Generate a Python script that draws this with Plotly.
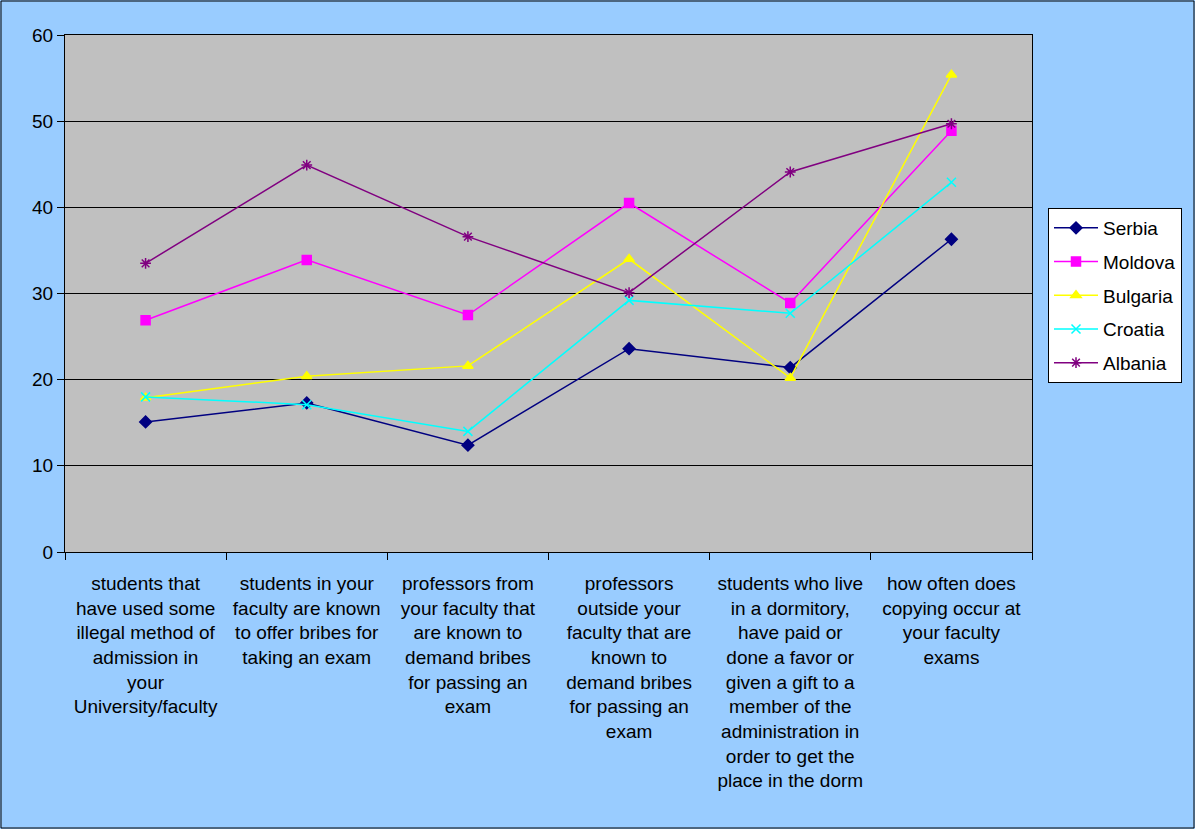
import plotly.graph_objects as go

# survey questions (x categories)
questions = [
    "students that<br>have used some<br>illegal method of<br>admission in<br>your<br>University/faculty",
    "students in your<br>faculty are known<br>to offer bribes for<br>taking an exam",
    "professors from<br>your faculty that<br>are known to<br>demand bribes<br>for passing an<br>exam",
    "professors<br>outside your<br>faculty that are<br>known to<br>demand bribes<br>for passing an<br>exam",
    "students who live<br>in a dormitory,<br>have paid or<br>done a favor or<br>given a gift to a<br>member of the<br>administration in<br>order to get the<br>place in the dorm",
    "how often does<br>copying occur at<br>your faculty<br>exams",
]

serbia = [15.1, 17.3, 12.4, 23.6, 21.4, 36.3]
moldova = [26.9, 33.9, 27.5, 40.5, 28.9, 48.9]
bulgaria = [17.9, 20.4, 21.6, 34.0, 20.2, 55.4]
croatia = [18.0, 17.1, 14.0, 29.2, 27.7, 42.9]
albania = [33.5, 44.9, 36.6, 30.1, 44.1, 49.7]

y_ticks = [0, 10, 20, 30, 40, 50, 60]

series = [
    ("Serbia", serbia, "#000080", "diamond"),
    ("Moldova", moldova, "#FF00FF", "square"),
    ("Bulgaria", bulgaria, "#FFFF00", "triangle-up"),
    ("Croatia", croatia, "#00FFFF", "x-thin-open"),
    ("Albania", albania, "#800080", "asterisk-open"),
]

fig = go.Figure()
for name, vals, col, sym in series:
    fig.add_trace(go.Scatter(
        x=questions, y=vals, name=name, legendgroup=name, mode="lines+markers",
        line=dict(color=col, width=1.5),
        marker=dict(symbol=sym, size=9, color=col,
                    line=dict(color=col, width=1.5)),
    ))

W, H = 1195, 829
ml, mr, mt, mb = 65, 163, 35, 277
pw, ph = W - ml - mr, H - mt - mb

fig.update_layout(
    width=W, height=H,
    margin=dict(l=ml, r=mr, t=mt, b=mb),
    paper_bgcolor="#99CCFF",
    plot_bgcolor="#C0C0C0",
    font=dict(family="Liberation Sans, Arial, sans-serif", size=19, color="black"),
    showlegend=True,
    legend=dict(x=(1048 - ml) / pw, y=(552 - 208) / ph, xanchor="left", yanchor="top",
                bgcolor="white", bordercolor="black", borderwidth=1,
                font=dict(size=19), tracegroupgap=6, itemwidth=44),
    shapes=[dict(type="rect", xref="paper", yref="paper",
                 x0=-(ml - 1) / pw, x1=1 + (mr - 1) / pw,
                 y0=-(mb - 1) / ph, y1=1 + (mt - 1) / ph,
                 line=dict(color="black", width=1), layer="below")],
)
fig.update_xaxes(
    type="category", range=[-0.5, len(questions) - 0.5],
    tickson="boundaries", ticks="outside", ticklen=7,
    tickcolor="black", showline=True, linecolor="black", linewidth=1,
    mirror=True, showgrid=False, tickfont=dict(size=19), ticklabelstandoff=14,
)
fig.update_yaxes(
    range=[0, 60], tickvals=y_ticks, ticks="outside", ticklen=7,
    tickcolor="black", showline=True, linecolor="black", linewidth=1,
    mirror=True, showgrid=True, gridcolor="black", gridwidth=1,
    zeroline=False, tickfont=dict(size=19),
)

fig.write_html("out.html", config={"displayModeBar": False},
               post_script="document.body.style.margin='0px';")
